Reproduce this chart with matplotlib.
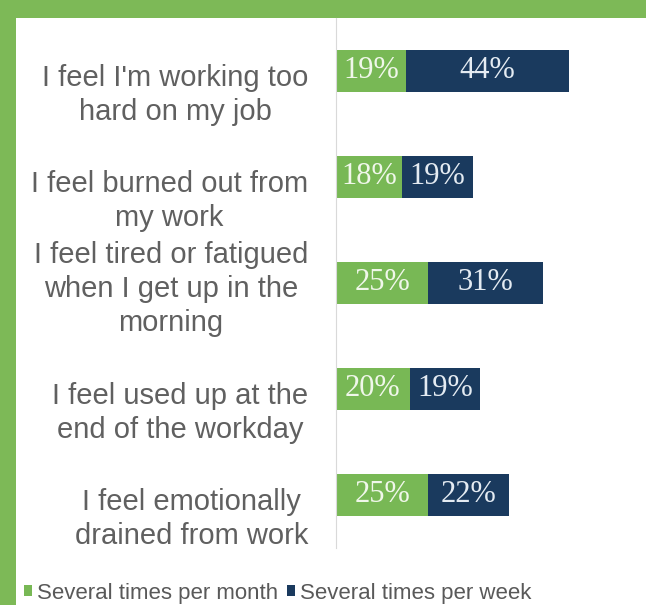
import matplotlib.pyplot as plt
import matplotlib.transforms as mtransforms
from matplotlib.patches import Rectangle

categories = [
    "I feel I'm working too\nhard on my job",
    "I feel burned out from\nmy work",
    "I feel tired or fatigued\nwhen I get up in the\nmorning",
    "I feel used up at the\nend of the workday",
    "I feel emotionally\ndrained from work",
]
per_month = [19, 18, 25, 20, 25]
per_week = [44, 19, 31, 19, 22]
series_names = ["Several times per month", "Several times per week"]

green = "#78B855"
navy = "#1A3A5E"
border = "#7DB957"

fig = plt.figure(figsize=(6.46, 6.05), dpi=100)
fig.patch.set_facecolor(border)
fig.add_artist(Rectangle((16 / 646, 0), 1, 1 - 18 / 605, transform=fig.transFigure,
                         facecolor="white", edgecolor="none", zorder=0))

ax = fig.add_axes([336 / 646, 57 / 605, 310 / 646, 530 / 605])
ax.set_facecolor("none")

y = list(range(len(categories)))
b1 = ax.barh(y, per_month, height=0.4, color=green, label=series_names[0])
b2 = ax.barh(y, per_week, left=per_month, height=0.4, color=navy, label=series_names[1])
ax.bar_label(b1, labels=[f"{v}%" for v in per_month], label_type="center",
             color="#F0F7EA", fontsize=22, family="Liberation Serif")
ax.bar_label(b2, labels=[f"{v}%" for v in per_week], label_type="center",
             color="#E4EBF2", fontsize=22, family="Liberation Serif")

ax.set_ylim(len(categories) - 0.5, -0.5)
ax.set_xlim(0, 84)
ax.set_yticks(y)
ax.set_yticklabels(categories, fontsize=21, color="#606060", family="Liberation Sans",
                   multialignment="center", linespacing=1.28)
ax.tick_params(axis="y", length=0, pad=20)
# two-line labels sit a bit below their bars in the original
for lab in ax.get_yticklabels():
    if lab.get_text().count("\n") == 1:
        lab.set_transform(lab.get_transform() +
                          mtransforms.ScaledTranslation(0, -18 / 100, fig.dpi_scale_trans))
ax.set_xticks([])
for s in ["top", "right", "bottom"]:
    ax.spines[s].set_visible(False)
ax.spines["left"].set_color("#D9D9D9")

leg = fig.legend(handles=[b1, b2], loc="center left", bbox_to_anchor=(24 / 646, 12 / 605),
                 ncol=2, frameon=False, handlelength=0.38, handleheight=0.38,
                 handletextpad=0.2, columnspacing=0.4, borderpad=0, borderaxespad=0,
                 prop={"family": "Liberation Sans", "size": 16})
for t in leg.get_texts():
    t.set_color("#595959")

fig.savefig("out.png", dpi=100, facecolor=fig.get_facecolor())
